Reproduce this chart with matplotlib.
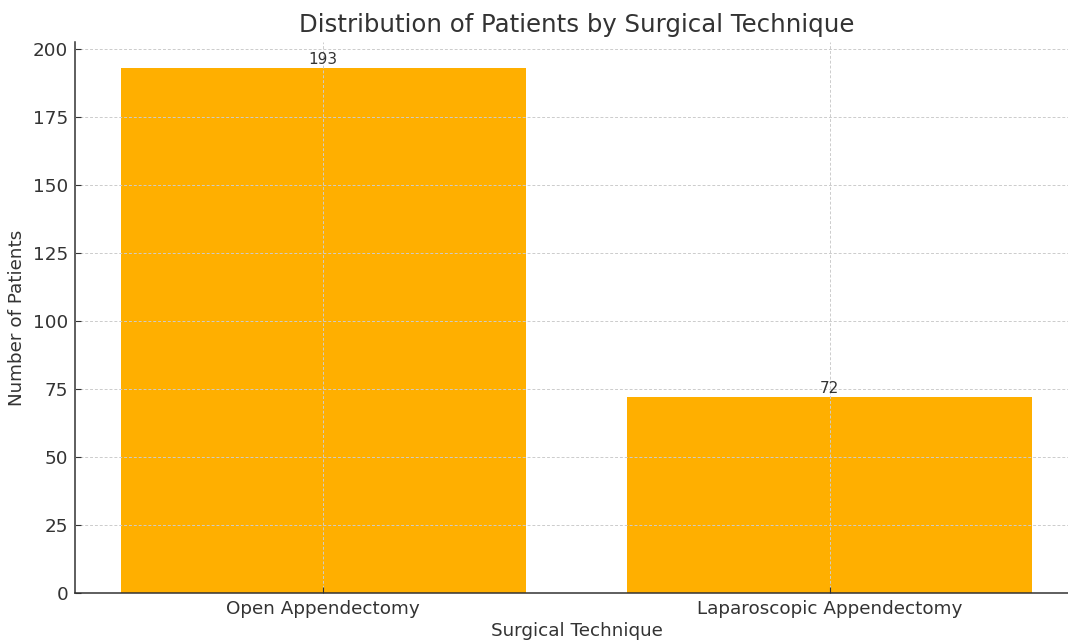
import matplotlib
matplotlib.use("Agg")
import matplotlib.pyplot as plt

plt.rcParams["font.family"] = "DejaVu Sans"

techniques = ["Open Appendectomy", "Laparoscopic Appendectomy"]
patients = [193, 72]

fig = plt.figure(figsize=(10.68, 6.42), dpi=100)
ax = fig.add_axes([75 / 1068, 1 - 593 / 642, 1003 / 1068, 551 / 642])

bars = ax.bar(techniques, patients, color="#FFAF00", width=0.8)
for b, v in zip(bars, patients):
    ax.text(b.get_x() + b.get_width() / 2, v + 0.5, str(v), ha="center", va="bottom",
            fontsize=11, color="#333333")

ax.set_axisbelow(False)
ax.grid(True, linestyle=(0, (3, 2)), color="#cccccc", linewidth=0.7)
ax.spines["top"].set_visible(False)
ax.spines["right"].set_visible(False)
ax.spines["left"].set_color("#333333")
ax.spines["bottom"].set_color("#333333")
ax.spines["left"].set_linewidth(1.1)
ax.spines["bottom"].set_linewidth(1.1)
ax.tick_params(labelsize=13.2, colors="#333333", direction="in", length=4, pad=5)

ax.set_title("Distribution of Patients by Surgical Technique", fontsize=17.6, color="#333333", pad=7)
ax.set_xlabel("Surgical Technique", fontsize=13.2, color="#333333", labelpad=3)
ax.set_ylabel("Number of Patients", fontsize=13.2, color="#333333", labelpad=5)

fig.savefig("out.png", dpi=100)
